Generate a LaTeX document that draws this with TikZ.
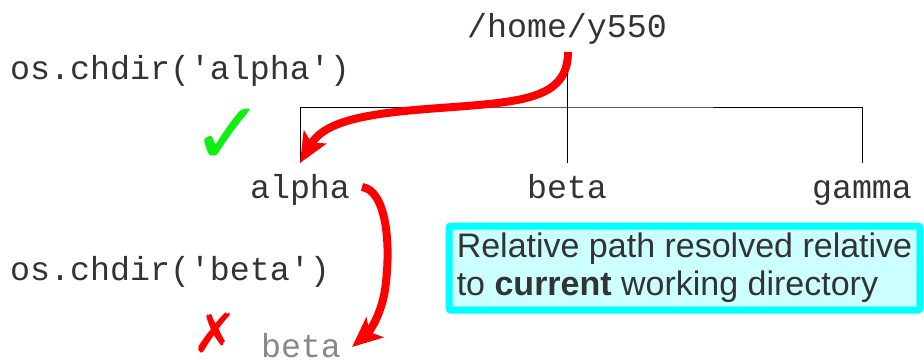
\documentclass[tikz,border=0pt]{standalone}
\usepackage{fontspec}
\setmainfont{Liberation Sans}
\setsansfont{Liberation Sans}
\setmonofont{Liberation Mono}
\newfontfamily\symfont{DejaVu Sans}
\usetikzlibrary{arrows.meta,positioning,calc}
\definecolor{inkgrey}{HTML}{333333}
\definecolor{fadegrey}{HTML}{888888}
\definecolor{hotred}{HTML}{FF0000}
\definecolor{okgreen}{HTML}{11EE11}
\definecolor{notecyan}{HTML}{00FFFF}
\definecolor{notefill}{HTML}{CCFFFF}

\begin{document}
\begin{tikzpicture}[x=1pt,y=-1pt,
  code/.style={font=\ttfamily\fontsize{33.3}{38}\selectfont,text=inkgrey,anchor=base,inner sep=0pt},
  tree/.style={draw=black,line width=1pt},
  redarr/.style={-{Stealth[length=30pt,width=26pt,inset=7pt]},line width=8pt,draw=hotred},
  note/.style={draw=notecyan,line width=7pt,fill=notefill,rounded corners=2pt,
               minimum width=471pt,minimum height=84pt,align=left,inner sep=0pt,
               font=\sffamily\fontsize{34}{38}\selectfont,text=inkgrey}
]
\useasboundingbox (0,0) rectangle (924,361);
% directory tree
\node[code] (root) at (567,38) {/home/y550};
\node[code] (alpha) at (300,198) {alpha};
\node[code] (beta) at (567,198) {beta};
\node[code] (gamma) at (862,198) {gamma};
\coordinate (rootfoot) at (567,68);
\coordinate (hub) at (567,107);
\coordinate (alphatop) at (300,163);
\coordinate (betatop) at (567,163);
\coordinate (gammatop) at (862,163);
\draw[tree] (rootfoot) -- (betatop);
\draw[tree] (alphatop) |- (hub) -| (gammatop);
% commands
\node[code,anchor=base west] (cmda) at (10,80) {os.chdir('alpha')};
\node[code,anchor=base west] (cmdb) at (10,280) {os.chdir('beta')};
\node[code,text=fadegrey] (nobeta) at (301,357) {beta};
\node[font=\symfont\fontsize{88}{88}\selectfont,text=okgreen,inner sep=0pt] (ok) at (228,137) {✓};
\node[font=\symfont\fontsize{54}{54}\selectfont,text=hotred,inner sep=0pt] (bad) at (215,333) {✗};
% red moves
\coordinate (froma) at (568,52);
\coordinate (froma2) at (362,187);
\coordinate (toa2) at (352,347);
\draw[redarr] (froma) .. controls (568,100) and (520,102) .. (440,108)
                      .. controls (370,113) and (325,120) .. (alphatop);
\draw[redarr] (froma2) .. controls (385,190) and (392,240) .. (385,290)
                       .. controls (380,320) and (366,335) .. (toa2);
% note
\node[note] (expl) at (684.5,268) {Relative path resolved relative\\to \textbf{current} working directory};
\end{tikzpicture}
\end{document}
